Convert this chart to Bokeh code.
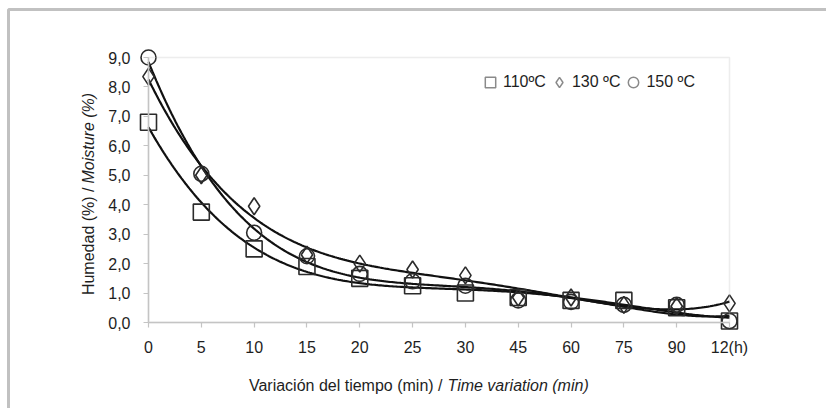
import numpy as np
from bokeh.plotting import figure
from bokeh.models import (Range1d, FixedTicker, Label, Legend, LegendItem, ColumnDataSource,
                          BoxAnnotation)
from bokeh.embed import file_html
from bokeh.resources import INLINE

categories = ["0", "5", "10", "15", "20", "25", "30", "45", "60", "75", "90", "12(h)"]
m110 = [6.8, 3.75, 2.5, 1.9, 1.5, 1.25, 1.0, 0.85, 0.75, 0.75, 0.5, 0.05]
m130 = [8.35, 5.0, 3.95, 2.3, 2.0, 1.8, 1.6, 0.85, 0.85, 0.6, 0.55, 0.65]
m150 = [9.0, 5.05, 3.05, 2.25, 1.65, 1.4, 1.25, 0.75, 0.7, 0.6, 0.6, 0.05]
series_names = ["110ºC", "130 ºC", "150 ºC"]
markers = ["square", "diamond", "circle"]
y_ticks = [0, 1, 2, 3, 4, 5, 6, 7, 8, 9]
y_labels = ["0,0", "1,0", "2,0", "3,0", "4,0", "5,0", "6,0", "7,0", "8,0", "9,0"]
x_title_a = "Variación del tiempo (min) /"
x_title_b = "Time variation (min)"
y_title_a = "Humedad (%) /"
y_title_b = "Moisture (%)"
TREND_DEGREE = 4

FONT = "Liberation Sans"
FS = "16px"
DARK = "#2b2b2b"
AXC = "#c4c4c4"
TXT = "#1e1e1e"

W, H = 826, 408
# plot area placement inside the canvas (pixels)
PX0, PX1, PY_TOP, PY_BOT = 148, 729, 57, 322
nx = len(categories) - 1
ymax = y_ticks[-1]
ppx = (PX1 - PX0) / nx
ppy = (PY_BOT - PY_TOP) / ymax
xr = Range1d(-PX0 / ppx, nx + (W - PX1) / ppx)
yr = Range1d(-(H - PY_BOT) / ppy, ymax + PY_TOP / ppy)


def dx(px):
    return (px - PX0) / ppx


def dy(py):
    return (PY_BOT - py) / ppy


p = figure(width=W, height=H, output_backend="svg", toolbar_location=None,
           x_range=xr, y_range=yr, min_border=0)
p.outline_line_color = None
p.xgrid.visible = False
p.ygrid.visible = False

xi = list(range(len(categories)))
p.xaxis.fixed_location = 0
p.yaxis.fixed_location = 0
p.xaxis.bounds = (0, nx)
p.yaxis.bounds = (0, ymax)
p.xaxis.ticker = FixedTicker(ticks=xi)
p.xaxis.major_label_overrides = {i: c for i, c in enumerate(categories)}
p.yaxis.ticker = FixedTicker(ticks=y_ticks)
p.yaxis.major_label_overrides = {t: l for t, l in zip(y_ticks, y_labels)}
for ax in (p.xaxis[0], p.yaxis[0]):
    ax.axis_line_color = AXC
    ax.axis_line_width = 1.5
    ax.major_tick_line_color = AXC
    ax.major_tick_line_width = 1.2
    ax.major_tick_in = 0
    ax.major_tick_out = 5
    ax.minor_tick_line_color = None
    ax.major_label_text_font = FONT
    ax.major_label_text_font_size = FS
    ax.major_label_text_color = TXT
p.xaxis.major_label_standoff = 11
p.yaxis.major_label_standoff = 13

# plot-area border (top and right edges)
p.add_layout(BoxAnnotation(left=0, right=nx, bottom=0, top=ymax, fill_alpha=0,
                           line_color=AXC, line_width=1.5))
# outer frame of the figure (only its left and top edges are inside the window)
p.add_layout(BoxAnnotation(left=dx(8), top=dy(9), right=xr.end + 5, bottom=yr.start - 5,
                           fill_alpha=0, line_color="#333333", line_width=3))

# trend lines (polynomial regression of each series)
xs = np.linspace(0, nx, 300)
for ys in (m110, m130, m150):
    coef = np.polyfit(xi, ys, TREND_DEGREE)
    p.line(xs, np.polyval(coef, xs), line_color="#111111", line_width=2.2)

sizes = [16, 17, 15]
items = []
for name, ys, mk, sz in zip(series_names, (m110, m130, m150), markers, sizes):
    src = ColumnDataSource(dict(x=xi, y=ys))
    p.scatter("x", "y", source=src, marker=mk, size=sz, fill_color=None,
              line_color=DARK, line_width=1.6)
    # legend swatch renderer (gray; zero size so it draws nothing in the plot)
    r = p.scatter("x", "y", source=src, marker=mk, size=0, fill_color=None,
                  line_color="#8a8a8a", line_width=1.5)
    items.append(LegendItem(label=name, renderers=[r]))

leg = Legend(items=items, orientation="horizontal", location=(dx(477) * 0 + 477, H - 95),
             border_line_color=None, background_fill_alpha=0,
             label_text_font=FONT, label_text_font_size=FS, label_text_color=TXT,
             glyph_width=26, glyph_height=26, label_standoff=0, spacing=0, padding=2, margin=0)
p.add_layout(leg)

# axis titles (mixed regular / italic)
common = dict(text_font=FONT, text_font_size=FS, text_color=TXT, text_baseline="middle")
p.add_layout(Label(x=dx(442), y=dy(385), text=x_title_a, text_align="right", **common))
p.add_layout(Label(x=dx(447), y=dy(385), text=x_title_b, text_align="left",
                   text_font_style="italic", **common))
p.add_layout(Label(x=dx(88), y=dy(187), text=y_title_a, angle=np.pi / 2, text_align="right", **common))
p.add_layout(Label(x=dx(88), y=dy(183), text=y_title_b, angle=np.pi / 2, text_align="left",
                   text_font_style="italic", **common))

open("out.html", "w").write(file_html(p, INLINE))
